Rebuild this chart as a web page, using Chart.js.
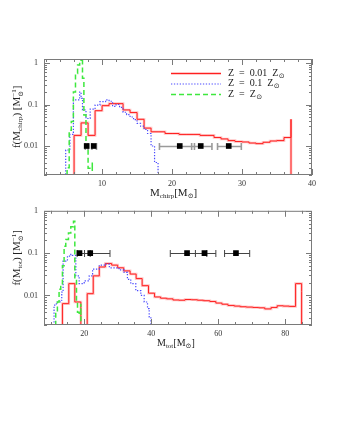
<!DOCTYPE html>
<html><head><meta charset="utf-8">
<script src="https://cdn.jsdelivr.net/npm/chart.js@4"></script>
<style>
body{margin:0;background:#fff;width:340px;height:440px;overflow:hidden;position:relative;font-family:'Liberation Serif','DejaVu Serif',serif;color:#222;}
canvas{position:absolute;left:0;}
.t{position:absolute;font-size:11px;white-space:nowrap;line-height:1;}
.t sub{font-size:7px;vertical-align:-2px;}
.st{display:inline-block;vertical-align:-3px;font-size:7px;line-height:0.95;text-align:left;}
.st span{display:block;}
.rot{transform:rotate(-90deg);transform-origin:center center;}
</style></head><body>
<canvas id="c1" width="340" height="200" style="top:0"></canvas>
<canvas id="c2" width="340" height="150" style="top:200px"></canvas>
<div class="t" id="xt1" style="left:150px;top:187px;">M<sub>chirp</sub>[M<sub>⊙</sub>]</div>
<div class="t" id="xt2" style="left:157px;top:338px;font-size:10px;">M<sub>tot</sub>[M<sub>⊙</sub>]</div>
<div class="t rot" id="yt1" style="left:-27px;top:110px;width:90px;text-align:center;">f(M<sub>chirp</sub>) [M<span class="st"><span>−1</span><span>⊙</span></span>]</div>
<div class="t rot" id="yt2" style="left:-27px;top:251px;width:90px;text-align:center;">f(M<sub>tot</sub>) [M<span class="st"><span>−1</span><span>⊙</span></span>]</div>
<script>
// ---------- data ----------
const redChirpEdges = [5,6,7,8,9,10,11,12,13,14,15,16,17,18,19,20,21,22,23,24,25,26,27,28,29,30,31,32,33,34,35,36,37];
const redChirpVals  = [0.018,0.036,0.018,0.071,0.094,0.105,0.105,0.074,0.064,0.044,0.027,0.022,0.022,0.020,0.020,0.019,0.019,0.019,0.018,0.018,0.016,0.0148,0.0135,0.0128,0.0125,0.0118,0.0114,0.0123,0.0132,0.0135,0.016,0.044];
const blueChirpEdges = [4.3,4.8,5.4,5.9,6.8,7.0,7.2,7.7,8.3,9.0,9.7,10.5,11.0,11.5,12.0,12.5,13.0,13.5,14.0,14.5,15.0,15.5,16.0,16.5,17.0,17.5,18.0];
const blueChirpVals  = [0.008,0.019,0.13,0.2,0.14,0.074,0.046,0.077,0.097,0.117,0.13,0.12,0.09,0.1,0.085,0.065,0.057,0.05,0.043,0.035,0.03,0.025,0.02,0.01,0.004,0.0025];
const greenChirpEdges = [4.7,5.0,5.3,5.6,5.9,6.2,6.5,6.8,7.0,7.2,7.4,7.7,8.0,8.3,8.6];
const greenChirpVals  = [0.003,0.024,0.039,0.2,0.56,0.9,1.07,1.4,0.43,0.056,0.0105,0.0029,0.0029,0.004];

const redTotEdges = [11.7,13.5,15.4,17.2,19.0,20.9,22.7,24.5,26.3,28.2,30.0,31.8,33.7,35.5,37.3,39.2,41.0,42.8,44.6,46.5,48.3,50.1,52.0,53.8,55.6,57.5,59.3,61.1,62.9,64.8,66.6,68.4,70.3,72.1,73.9,75.8,77.6,79.4,81.2,83.1,84.9];
const redTotVals  = [0.0064,0.019,0.007,0.0005,0.011,0.029,0.047,0.057,0.052,0.045,0.038,0.032,0.025,0.017,0.0113,0.0092,0.0086,0.0083,0.0078,0.0077,0.008,0.0079,0.0077,0.0075,0.0072,0.0066,0.0062,0.0058,0.0056,0.0054,0.0053,0.0052,0.0051,0.0048,0.0052,0.0057,0.0056,0.0055,0.019,0.0123];
const blueTotEdges = [10.0,11.0,11.7,12.8,13.3,13.7,15.0,16.0,16.5,17.5,18.5,20.0,21.5,22.5,24.5,26.0,27.5,30.4,31.9,32.9,33.9,35.4,36.9,37.9,38.9,39.4,39.9,40.3];
const blueTotVals  = [0.0059,0.007,0.0077,0.012,0.065,0.085,0.093,0.088,0.029,0.019,0.022,0.029,0.042,0.052,0.055,0.045,0.04,0.035,0.024,0.019,0.013,0.01,0.007,0.0049,0.0031,0.0022,0.0015];
const greenTotEdges = [11.0,11.5,12.0,12.5,13.0,13.5,14.0,14.5,15.3,16.0,16.8,17.2,17.7,18.0,18.5,19.0];
const greenTotVals  = [0.004,0.007,0.014,0.019,0.05,0.145,0.21,0.3,0.42,0.57,0.024,0.007,0.004,0.0034,0.0064];

const obsChirp   = [7.8, 8.8, 21.1, 24.1, 28.1];
const obsChirpLo = [7.6, 8.55, 18.2, 22.8, 26.5];
const obsChirpHi = [8.0, 9.2, 23.2, 25.7, 29.9];
const obsChirpY  = [0.01, 0.01, 0.01, 0.01, 0.01];
const obsTot   = [18.6, 21.8, 50.7, 55.9, 65.3];
const obsTotLo = [17.9, 20.1, 45.7, 53.2, 61.9];
const obsTotHi = [21.8, 27.7, 56.6, 59.3, 69.4];
const obsTotY  = [0.1, 0.1, 0.1, 0.1, 0.1];

const xTicksChirp = [10, 20, 30, 40];
const xTicksTot   = [20, 40, 60, 80];
const yTicks      = [0.01, 0.1, 1];
const legendLabels = [['Z  =  0.01  Z','⊙'], ['Z  =  0.1  Z','⊙'], ['Z  =  Z','⊙']];

// ---------- helpers ----------
const FLOOR = 1e-4;
function stepPoints(edges, vals){
  const pts = [{x: edges[0], y: FLOOR}];
  for (let i = 0; i < vals.length; i++) pts.push({x: edges[i+1], y: vals[i]});
  pts.push({x: edges[edges.length-1], y: FLOOR});
  return pts;
}
function yMinor(min, max){
  const out = [];
  for (let d = 0.0001; d <= 10; d *= 10) for (let k = 2; k <= 9; k++){ const v = +(d*k).toPrecision(3); if (v >= min && v <= max) out.push(v); }
  return out;
}
function xMinor(min, max, step, majors){
  const out = [];
  for (let v = Math.ceil(min/step)*step; v <= max + 1e-9; v += step) if (!majors.includes(v)) out.push(v);
  return out;
}

const framePlugin = {
  id: 'frame',
  afterDatasetsDraw(chart){
    const o = chart.options.plugins.frame; if (!o) return;
    const {ctx, chartArea: a, scales: {x, y}} = chart;
    ctx.save();
    ctx.strokeStyle = '#7a7a7a'; ctx.lineWidth = 1;
    ctx.strokeRect(a.left + 0.5, a.top + 0.5, a.right - a.left - 1, a.bottom - a.top - 1);
    ctx.beginPath();
    const seg = (x1, y1, x2, y2) => { ctx.moveTo(x1, y1); ctx.lineTo(x2, y2); };
    const xt = (vals, len) => vals.forEach(v => { const p = Math.round(x.getPixelForValue(v)) + 0.5; seg(p, a.bottom, p, a.bottom - len); seg(p, a.top, p, a.top + len); });
    const yt = (vals, len) => vals.forEach(v => { const p = Math.round(y.getPixelForValue(v)) + 0.5; seg(a.left, p, a.left + len, p); seg(a.right, p, a.right - len, p); });
    xt(o.xMajor, 6); xt(o.xMinor, 3); yt(o.yMajor, 6); yt(o.yMinor, 3);
    ctx.stroke();
    ctx.restore();
  }
};

const errPlugin = {
  id: 'err',
  beforeDatasetDraw(chart, args){
    const o = chart.options.plugins.err; if (!o || args.index !== 0) return;
    const {ctx, scales: {x, y}} = chart;
    ctx.save();
    ctx.strokeStyle = o.color; ctx.lineWidth = o.width;
    ctx.beginPath();
    for (let i = 0; i < o.lo.length; i++){
      const py = Math.round(y.getPixelForValue(o.yv[i])) + 0.5;
      const x1 = x.getPixelForValue(o.lo[i]), x2 = x.getPixelForValue(o.hi[i]);
      ctx.moveTo(x1, py); ctx.lineTo(x2, py);
      ctx.moveTo(x1, py - o.cap); ctx.lineTo(x1, py + o.cap);
      ctx.moveTo(x2, py - o.cap); ctx.lineTo(x2, py + o.cap);
    }
    ctx.stroke();
    ctx.restore();
  }
};

const legendPlugin = {
  id: 'legendbox',
  afterDraw(chart){
    const o = chart.options.plugins.legendbox; if (!o) return;
    const ctx = chart.ctx;
    ctx.save();
    o.items.forEach((it, i) => {
      const y = o.y + i * o.dy;
      ctx.strokeStyle = it.color; ctx.lineWidth = it.width; ctx.setLineDash(it.dash);
      ctx.beginPath(); ctx.moveTo(o.x1, y + 0.5); ctx.lineTo(o.x2, y + 0.5); ctx.stroke();
      ctx.setLineDash([]);
      ctx.fillStyle = '#222'; ctx.textBaseline = 'middle';
      ctx.font = "10px 'Liberation Serif', serif";
      ctx.fillText(it.text[0], o.tx, y);
      const w = ctx.measureText(it.text[0]).width;
      ctx.font = "7px 'DejaVu Sans', sans-serif";
      ctx.fillText(it.text[1], o.tx + w + 0.5, y + 3);
    });
    ctx.restore();
  }
};

const RED = '#ff2020', PINK = 'rgba(255,150,150,0.55)', BLUE = '#4a4aff', GREEN = '#3ee83e';

function histSets(re, rv, be, bv, ge, gv, sq, sqY){
  return [
    {data: sq.map((v, i) => ({x: v, y: sqY[i]})), showLine: false, pointStyle: 'rect', pointRadius: 4, pointBackgroundColor: '#000', pointBorderWidth: 0, borderColor: '#000'},
    {data: stepPoints(ge, gv), borderColor: GREEN, borderWidth: 1.5, borderDash: [5, 3]},
    {data: stepPoints(be, bv), borderColor: BLUE, borderWidth: 1.2, borderDash: [1.3, 1.6]},
    {data: stepPoints(re, rv), borderColor: RED, borderWidth: 1},
    {data: stepPoints(re, rv), borderColor: PINK, borderWidth: 2.6}
  ];
}

function makeChart(id, cfg){
  return new Chart(document.getElementById(id), {
    type: 'line',
    data: {datasets: cfg.datasets.map(d => Object.assign({stepped: 'before', pointRadius: 0, fill: false, tension: 0, borderJoinStyle: 'miter'}, d))},
    options: {
      responsive: false, animation: false, devicePixelRatio: 1,
      layout: {autoPadding: false, padding: cfg.padding},
      plugins: {legend: {display: false}, tooltip: {enabled: false},
        frame: cfg.frame, err: cfg.err, legendbox: cfg.legend},
      scales: {
        x: {type: 'linear', min: cfg.xmin, max: cfg.xmax,
          afterFit: s => { s.height = 25; },
          afterBuildTicks: s => { s.ticks = cfg.xMajor.map(v => ({value: v})); },
          grid: {display: false, drawTicks: false}, border: {display: false},
          ticks: {padding: 4, maxRotation: 0, autoSkip: false, color: '#333', font: {family: "'Liberation Serif', serif", size: 8}, callback: v => String(v)}},
        y: {type: 'logarithmic', min: cfg.ymin, max: cfg.ymax,
          afterFit: s => { s.width = 44; },
          afterBuildTicks: s => { s.ticks = yTicks.map(v => ({value: v})); },
          grid: {display: false, drawTicks: false}, border: {display: false},
          ticks: {padding: 6, autoSkip: false, color: '#333', font: {family: "'Liberation Serif', serif", size: 8}, callback: v => String(v)}}
      }
    },
    plugins: [framePlugin, errPlugin, legendPlugin]
  });
}

makeChart('c1', {
  xmin: 1.7, xmax: 40, ymin: 0.002, ymax: 1.25,
  padding: {top: 59, right: 28, left: 0, bottom: 0},
  xMajor: xTicksChirp,
  datasets: histSets(redChirpEdges, redChirpVals, blueChirpEdges, blueChirpVals, greenChirpEdges, greenChirpVals, obsChirp, obsChirpY),
  frame: {xMajor: xTicksChirp, xMinor: xMinor(1.7, 40, 2, xTicksChirp), yMajor: yTicks, yMinor: yMinor(0.002, 1.25)},
  err: {lo: obsChirpLo, hi: obsChirpHi, yv: obsChirpY, color: '#9a9a9a', width: 1.6, cap: 3.5},
  legend: {x1: 171, x2: 221, tx: 228, y: 73, dy: 10.5, items: [
    {color: RED, width: 1.6, dash: [], text: legendLabels[0]},
    {color: BLUE, width: 1.2, dash: [1.3, 1.6], text: legendLabels[1]},
    {color: GREEN, width: 1.6, dash: [5, 3], text: legendLabels[2]}]}
});

makeChart('c2', {
  xmin: 8, xmax: 88, ymin: 0.002, ymax: 1,
  padding: {top: 9, right: 28, left: 0, bottom: 0},
  xMajor: xTicksTot,
  datasets: histSets(redTotEdges, redTotVals, blueTotEdges, blueTotVals, greenTotEdges, greenTotVals, obsTot, obsTotY),
  frame: {xMajor: xTicksTot, xMinor: xMinor(8, 88, 5, xTicksTot), yMajor: yTicks, yMinor: yMinor(0.002, 1)},
  err: {lo: obsTotLo, hi: obsTotHi, yv: obsTotY, color: '#444', width: 1, cap: 3.5},
  legend: null
});
</script>
</body></html>
